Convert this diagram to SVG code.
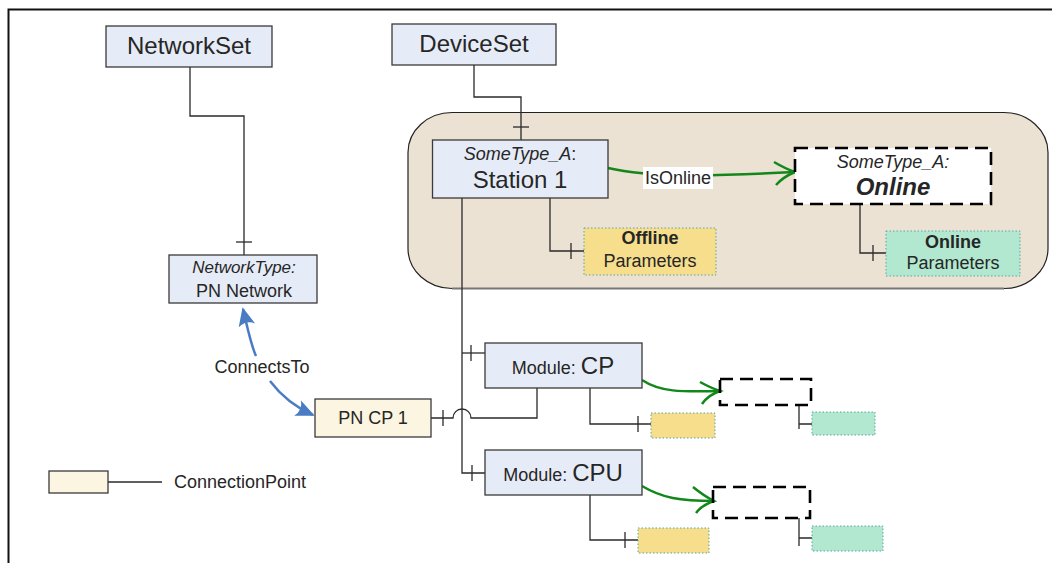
<svg xmlns="http://www.w3.org/2000/svg" width="1052" height="563" viewBox="0 0 1052 563">
  <style>
    text { font-family: "Liberation Sans", Arial, sans-serif; fill: #262626; }
    .node { fill: #e6ecf7; stroke: #3a3a3a; stroke-width: 1.3; }
    .cp { fill: #fbf5e2; stroke: #3a3a3a; stroke-width: 1.3; }
    .off { fill: #f6de8c; stroke: #5aa6a0; stroke-width: 1; stroke-dasharray: 1.5 2; }
    .on { fill: #b2e8cf; stroke: #5aa6a0; stroke-width: 1; stroke-dasharray: 1.5 2; }
    .dash { fill: #ffffff; stroke: #000; stroke-width: 2.6; stroke-dasharray: 13 7; }
    .dash-empty { fill: none; stroke: #000; stroke-width: 2.6; stroke-dasharray: 13 7; }
    .link { fill: none; stroke: #2a2a2a; stroke-width: 1.3; }
    .tick { fill: none; stroke: #2a2a2a; stroke-width: 1.3; }
    .green { fill: none; stroke: #12871a; stroke-width: 2.5; }
    .blue { fill: none; stroke: #4a7cc4; stroke-width: 2.5; }
    .it { font-style: italic; }
    .b { font-weight: bold; }
  </style>
  <defs>
    <marker id="blueHead" viewBox="0 0 20 20" refX="18" refY="10" markerWidth="7.5" markerHeight="7.5" markerUnits="strokeWidth" orient="auto-start-reverse">
      <path d="M0,1 L20,10 L0,19 Q6,10 0,1 Z" fill="#4a7cc4"/>
    </marker>
  </defs>

  <!-- frame -->
  <path d="M8.5,563 L8.5,9.5 L1052,9.5" fill="none" stroke="#111" stroke-width="2"/>

  <!-- station container -->
  <g id="container">
    <rect x="408" y="112.5" width="640" height="176" rx="44" ry="40" fill="#ebe2d4" stroke="#222" stroke-width="1.2"/>
    <path d="M452,288.5 L1004,288.5" stroke="#777" stroke-width="2"/>
  </g>

  <!-- connectors -->
  <g id="connectors">
    <!-- NetworkSet to PN Network -->
    <path class="link" d="M190,67 V116 H244 V255" stroke="#555"/>
    <path class="tick" d="M236,242 H252"/>
    <!-- DeviceSet to Station 1 -->
    <path class="link" d="M474,65 V97 H521 V140"/>
    <path class="tick" d="M513,127 H529"/>
    <!-- Station 1 to Offline Parameters -->
    <path class="link" d="M550,198 V251 H584"/>
    <path class="tick" d="M571,243 V259"/>
    <!-- Online to Online Parameters -->
    <path class="link" d="M860,205 V253 H886"/>
    <path class="tick" d="M873,245 V261"/>
    <!-- Station 1 to modules -->
    <path class="link" d="M462,198 V473 H485"/>
    <path class="link" d="M462,353 H485"/>
    <path class="tick" d="M471,345 V361"/>
    <path class="tick" d="M472,465 V481"/>
    <!-- Module CP to PN CP 1 (hop over the trunk) -->
    <path class="link" d="M537,388 V418 H471 A9,9 0 0 0 453,418 H431"/>
    <path class="tick" d="M443,410 V426"/>
    <!-- Module CP parameters -->
    <path class="link" d="M590,388 V424 H651"/>
    <path class="tick" d="M638,416 V432"/>
    <path class="link" d="M799,405 V429 M799,424 H812"/>
    <!-- Module CPU parameters -->
    <path class="link" d="M590,495 V540 H638"/>
    <path class="tick" d="M625,532 V548"/>
    <path class="link" d="M799,518 V546 M799,538 H812"/>
    <!-- IsOnline relations -->
    <path class="green" d="M608,168 C 650,178 720,176 795,172"/>
    <path class="green" d="M774,162 Q786,169 795,172 Q783,177 776,185"/>
    <path class="green" d="M642,380 C 660,392 680,392 720,391"/>
    <path class="green" d="M700,382 Q711,388 720,391 Q708,395 702,404"/>
    <path class="green" d="M642,486 C 662,498 680,501 714,501"/>
    <path class="green" d="M693,487 Q704,496 714,501 Q702,505 696,513"/>
    <!-- ConnectsTo -->
    <path class="blue" d="M243,309 C 248,330 251,345 256,356" marker-start="url(#blueHead)"/>
    <path class="blue" d="M270,381 C 282,397 295,407 313,415" marker-end="url(#blueHead)"/>
    <!-- legend line -->
    <path class="link" d="M108,482 H162"/>
  </g>

  <g id="networkset">
    <rect class="node" x="106" y="26" width="166" height="41"/>
    <text x="189" y="54" font-size="24" text-anchor="middle">NetworkSet</text>
  </g>

  <g id="deviceset">
    <rect class="node" x="392" y="24" width="164" height="41"/>
    <text x="474" y="52" font-size="24" text-anchor="middle">DeviceSet</text>
  </g>

  <g id="station1">
    <rect class="node" x="432.5" y="140" width="175.5" height="58"/>
    <text x="520" y="160" font-size="18" text-anchor="middle"><tspan class="it">SomeType_A</tspan>:</text>
    <text x="520" y="188" font-size="24" text-anchor="middle">Station 1</text>
  </g>

  <g id="isonline-label">
    <rect x="643" y="167" width="70" height="22" fill="#fff"/>
    <text x="678" y="184" font-size="18" text-anchor="middle">IsOnline</text>
  </g>

  <g id="online">
    <rect class="dash" x="795" y="148" width="196" height="56"/>
    <text x="893" y="168" font-size="18" text-anchor="middle" class="it">SomeType_A:</text>
    <text x="893" y="195" font-size="24" text-anchor="middle" class="it b">Online</text>
  </g>

  <g id="offline-params">
    <rect class="off" x="584" y="228" width="132" height="47"/>
    <text x="650" y="244" font-size="18" text-anchor="middle" class="b">Offline</text>
    <text x="650" y="267" font-size="18" text-anchor="middle">Parameters</text>
  </g>

  <g id="online-params">
    <rect class="on" x="886" y="231" width="134" height="45"/>
    <text x="953" y="248" font-size="18" text-anchor="middle" class="b">Online</text>
    <text x="953" y="269" font-size="18" text-anchor="middle">Parameters</text>
  </g>

  <g id="pn-network">
    <rect class="node" x="169" y="255" width="148" height="48"/>
    <text x="244" y="273" font-size="17" text-anchor="middle" class="it">NetworkType:</text>
    <text x="244" y="297" font-size="18" text-anchor="middle">PN Network</text>
  </g>

  <g id="connectsto-label">
    <text x="262" y="373" font-size="18" text-anchor="middle">ConnectsTo</text>
  </g>

  <g id="pn-cp1">
    <rect class="cp" x="315" y="399" width="116" height="38"/>
    <text x="373" y="424" font-size="18" text-anchor="middle">PN CP 1</text>
  </g>

  <g id="module-cp">
    <rect class="node" x="485" y="343" width="157" height="45"/>
    <text x="563" y="374" text-anchor="middle"><tspan font-size="18">Module: </tspan><tspan font-size="24">CP</tspan></text>
  </g>
  <g id="module-cp-online">
    <rect class="dash-empty" x="720" y="379" width="91" height="26"/>
  </g>
  <g id="module-cp-offline-params">
    <rect class="off" x="651" y="413" width="64" height="25"/>
  </g>
  <g id="module-cp-online-params">
    <rect class="on" x="812" y="412" width="63" height="23"/>
  </g>

  <g id="module-cpu">
    <rect class="node" x="485" y="450" width="157" height="45"/>
    <text x="563" y="481" text-anchor="middle"><tspan font-size="18">Module: </tspan><tspan font-size="24">CPU</tspan></text>
  </g>
  <g id="module-cpu-online">
    <rect class="dash-empty" x="713" y="487" width="97" height="31"/>
  </g>
  <g id="module-cpu-offline-params">
    <rect class="off" x="638" y="528" width="71" height="25"/>
  </g>
  <g id="module-cpu-online-params">
    <rect class="on" x="812" y="526" width="71" height="25"/>
  </g>

  <g id="legend">
    <rect class="cp" x="49" y="471" width="59" height="22"/>
    <text x="174" y="488" font-size="18">ConnectionPoint</text>
  </g>
</svg>
